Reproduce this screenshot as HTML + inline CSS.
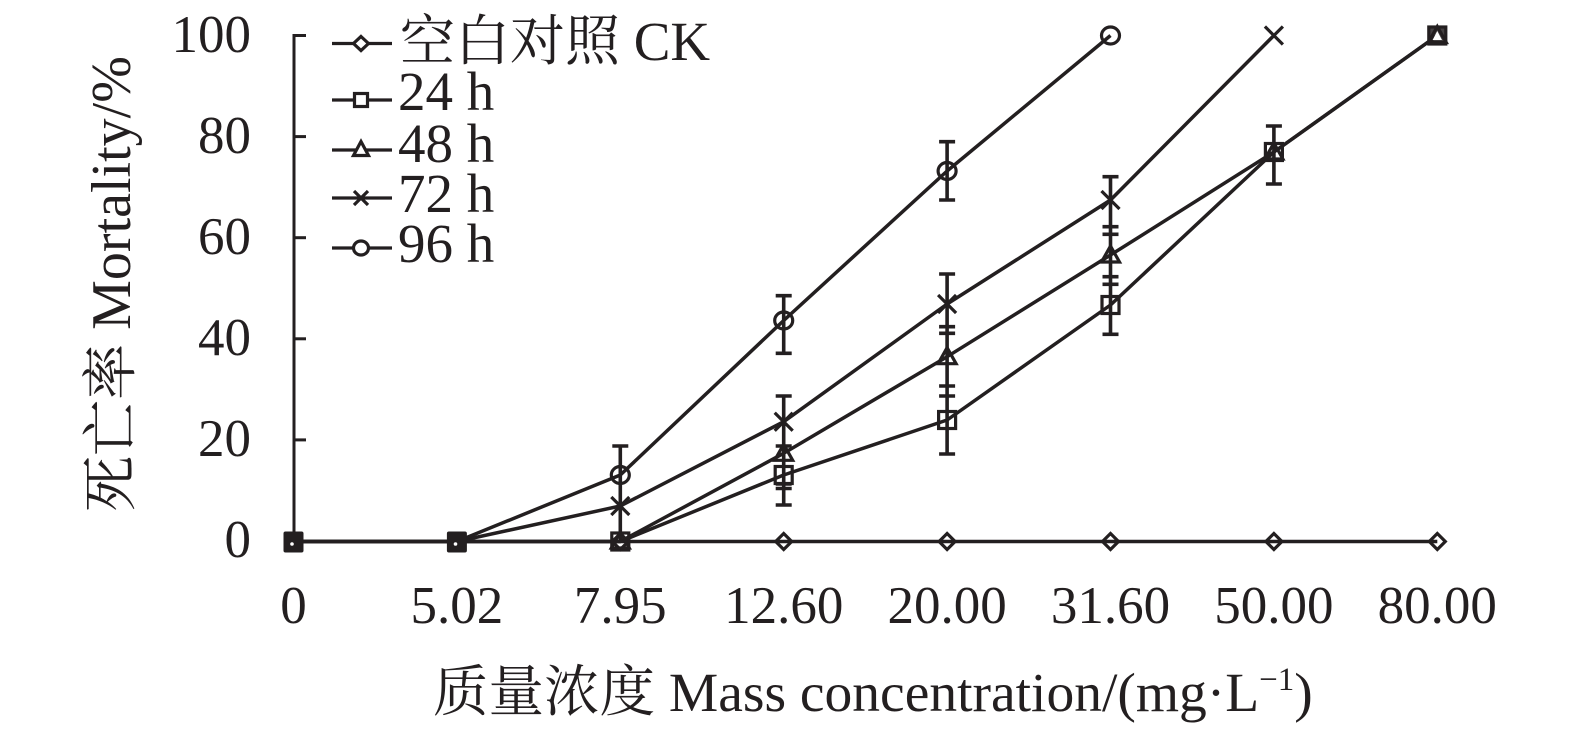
<!DOCTYPE html>
<html>
<head>
<meta charset="utf-8">
<style>
  html, body { margin: 0; padding: 0; background: #ffffff; }
  svg { display: block; }
  text { fill: #231f20; }
</style>
</head>
<body>
<svg width="1575" height="734" viewBox="0 0 1575 734" xmlns="http://www.w3.org/2000/svg">
  <rect width="1575" height="734" fill="#ffffff"/>

  <!-- Y axis -->
  <g stroke="#231f20" stroke-width="3" fill="none">
    <line x1="294" y1="34" x2="294" y2="542"/>
    <line x1="294" y1="35.5" x2="306" y2="35.5"/>
    <line x1="294" y1="136.6" x2="306" y2="136.6"/>
    <line x1="294" y1="237.7" x2="306" y2="237.7"/>
    <line x1="294" y1="338.8" x2="306" y2="338.8"/>
    <line x1="294" y1="439.9" x2="306" y2="439.9"/>
  </g>

  <!-- Y tick labels -->
  <g font-family="'Liberation Serif', serif" font-size="53" text-anchor="end">
    <text x="251" y="52">100</text>
    <text x="251" y="153">80</text>
    <text x="251" y="254">60</text>
    <text x="251" y="355">40</text>
    <text x="251" y="456">20</text>
    <text x="251" y="557">0</text>
  </g>

  <!-- X tick labels -->
  <g font-family="'Liberation Serif', serif" font-size="53" text-anchor="middle">
    <text x="293.5" y="623">0</text>
    <text x="456.9" y="623">5.02</text>
    <text x="620.3" y="623">7.95</text>
    <text x="783.7" y="623">12.60</text>
    <text x="947.1" y="623">20.00</text>
    <text x="1110.5" y="623">31.60</text>
    <text x="1273.9" y="623">50.00</text>
    <text x="1437.3" y="623">80.00</text>
  </g>

  <!-- Axis titles -->
  <text x="433" y="711" font-family="'Liberation Serif', 'Noto Serif CJK SC', serif" font-size="55.5">质量浓度 Mass concentration/(mg·L<tspan font-size="33" dy="-21">−1</tspan><tspan dy="21">)</tspan></text>
  <text transform="translate(130,284) rotate(-90)" text-anchor="middle" font-family="'Liberation Serif', 'Noto Serif CJK SC', serif" font-size="56">死亡率 Mortality/%</text>

  <!-- Series lines -->
  <g stroke="#231f20" stroke-width="3.5" fill="none" stroke-linejoin="round">
    <!-- CK -->
    <polyline points="293.5,541.5 456.9,541.5 620.3,541.5 783.7,541.5 947.1,541.5 1110.5,541.5 1273.9,541.5 1437.3,541.5"/>
    <!-- 24 h -->
    <polyline points="293.5,541.5 456.9,541.5 620.3,541.5 783.7,475 947.1,420 1110.5,305 1273.9,152 1437.3,35.5"/>
    <!-- 48 h -->
    <polyline points="293.5,541.5 456.9,541.5 620.3,541.5 783.7,453.3 947.1,356.7 1110.5,255 1273.9,152 1437.3,35.5"/>
    <!-- 72 h -->
    <polyline points="293.5,541.5 456.9,541.5 620.3,506 783.7,421.7 947.1,304 1110.5,200 1273.9,35.5"/>
    <!-- 96 h -->
    <polyline points="293.5,541.5 456.9,541.5 620.3,475 783.7,320.5 947.1,171 1110.5,35.5"/>
  </g>

  <!-- Error bars -->
  <g stroke="#231f20" stroke-width="3.6" fill="none">
    <line x1="620.3" y1="446" x2="620.3" y2="541"/>
    <line x1="612.3" y1="446" x2="628.3" y2="446"/>
    <line x1="783.7" y1="295.7" x2="783.7" y2="353.3"/>
    <line x1="775.7" y1="295.7" x2="791.7" y2="295.7"/>
    <line x1="775.7" y1="353.3" x2="791.7" y2="353.3"/>
    <line x1="783.7" y1="396" x2="783.7" y2="505"/>
    <line x1="775.7" y1="396" x2="791.7" y2="396"/>
    <line x1="775.7" y1="446" x2="791.7" y2="446"/>
    <line x1="775.7" y1="484" x2="791.7" y2="484"/>
    <line x1="775.7" y1="488.5" x2="791.7" y2="488.5"/>
    <line x1="775.7" y1="505" x2="791.7" y2="505"/>
    <line x1="947.1" y1="141.7" x2="947.1" y2="200"/>
    <line x1="939.1" y1="141.7" x2="955.1" y2="141.7"/>
    <line x1="939.1" y1="200" x2="955.1" y2="200"/>
    <line x1="947.1" y1="274" x2="947.1" y2="454"/>
    <line x1="939.1" y1="274" x2="955.1" y2="274"/>
    <line x1="939.1" y1="326.7" x2="955.1" y2="326.7"/>
    <line x1="939.1" y1="333.3" x2="955.1" y2="333.3"/>
    <line x1="939.1" y1="386" x2="955.1" y2="386"/>
    <line x1="939.1" y1="396" x2="955.1" y2="396"/>
    <line x1="939.1" y1="454" x2="955.1" y2="454"/>
    <line x1="1110.5" y1="176.7" x2="1110.5" y2="334.3"/>
    <line x1="1102.5" y1="176.7" x2="1118.5" y2="176.7"/>
    <line x1="1102.5" y1="226.7" x2="1118.5" y2="226.7"/>
    <line x1="1102.5" y1="234.3" x2="1118.5" y2="234.3"/>
    <line x1="1102.5" y1="276.7" x2="1118.5" y2="276.7"/>
    <line x1="1102.5" y1="284.3" x2="1118.5" y2="284.3"/>
    <line x1="1102.5" y1="334.3" x2="1118.5" y2="334.3"/>
    <line x1="1273.9" y1="126" x2="1273.9" y2="184"/>
    <line x1="1265.9" y1="126" x2="1281.9" y2="126"/>
    <line x1="1265.9" y1="184" x2="1281.9" y2="184"/>
  </g>

  <!-- Markers -->
  <g stroke="#231f20" stroke-width="3.2" fill="none">
    <path d="M620.3,533.5 L628.3,541.5 L620.3,549.5 L612.3,541.5 Z"/>
    <path d="M783.7,533.5 L791.7,541.5 L783.7,549.5 L775.7,541.5 Z"/>
    <path d="M947.1,533.5 L955.1,541.5 L947.1,549.5 L939.1,541.5 Z"/>
    <path d="M1110.5,533.5 L1118.5,541.5 L1110.5,549.5 L1102.5,541.5 Z"/>
    <path d="M1273.9,533.5 L1281.9,541.5 L1273.9,549.5 L1265.9,541.5 Z"/>
    <path d="M1437.3,533.5 L1445.3,541.5 L1437.3,549.5 L1429.3,541.5 Z"/>
    <rect x="611.8" y="533" width="17" height="17"/>
    <rect x="775.2" y="466.5" width="17" height="17"/>
    <rect x="938.6" y="411.5" width="17" height="17"/>
    <rect x="1102" y="296.5" width="17" height="17"/>
    <rect x="1265.4" y="143.5" width="17" height="17"/>
    <rect x="1428.8" y="27" width="17" height="17"/>
    <path d="M620.3,532 L629.3,548 L611.3,548 Z"/>
    <path d="M783.7,444.3 L792.7,460.3 L774.7,460.3 Z"/>
    <path d="M947.1,347.7 L956.1,363.7 L938.1,363.7 Z"/>
    <path d="M1110.5,246 L1119.5,262 L1101.5,262 Z"/>
    <path d="M1273.9,143 L1282.9,159 L1264.9,159 Z"/>
    <path d="M1437.3,26.5 L1446.3,42.5 L1428.3,42.5 Z"/>
    <path d="M611.3,497 L629.3,515 M629.3,497 L611.3,515"/>
    <path d="M774.7,412.7 L792.7,430.7 M792.7,412.7 L774.7,430.7"/>
    <path d="M938.1,295 L956.1,313 M956.1,295 L938.1,313"/>
    <path d="M1101.5,191 L1119.5,209 M1119.5,191 L1101.5,209"/>
    <path d="M1264.9,26.5 L1282.9,44.5 M1282.9,26.5 L1264.9,44.5"/>
    <ellipse cx="620.3" cy="475" rx="9" ry="8.5"/>
    <ellipse cx="783.7" cy="320.5" rx="9" ry="8.5"/>
    <ellipse cx="947.1" cy="171" rx="9" ry="8.5"/>
    <ellipse cx="1110.5" cy="35.5" rx="9" ry="8.5"/>
  </g>
  <rect x="283.5" y="531.5" width="20" height="21" rx="2" fill="#231f20"/>
  <rect x="446.9" y="531.5" width="20" height="21" rx="2" fill="#231f20"/>
  <circle cx="292" cy="544" r="1.8" fill="#ffffff"/>
  <circle cx="455.5" cy="544" r="1.8" fill="#ffffff"/>
  <rect x="1429.8" y="28" width="15" height="15" fill="#231f20" fill-opacity="0.85"/>
  <path d="M1437.3,31 L1442,40 L1432.6,40 Z" fill="#ffffff"/>

  <!-- Legend -->
  <g stroke="#231f20" stroke-width="3.2" fill="none">
    <line x1="332" y1="43.5" x2="392" y2="43.5"/>
    <path d="M361,36.5 L368.5,43.5 L361,50.5 L353.5,43.5 Z" fill="#ffffff"/>
    <line x1="332" y1="100" x2="392" y2="100"/>
    <rect x="354.5" y="93.5" width="13" height="13" fill="#ffffff"/>
    <line x1="332" y1="150" x2="392" y2="150"/>
    <path d="M361,141.5 L368.5,155.5 L353.5,155.5 Z" fill="#ffffff"/>
    <line x1="332" y1="198" x2="392" y2="198"/>
    <path d="M354,191 L368,205 M368,191 L354,205"/>
    <line x1="332" y1="248" x2="392" y2="248"/>
    <ellipse cx="361" cy="248" rx="7.5" ry="7" fill="#ffffff"/>
  </g>
  <g font-family="'Liberation Serif', 'Noto Serif CJK SC', serif" font-size="55">
    <text x="400" y="60">空白对照 CK</text>
    <text x="398" y="110">24 h</text>
    <text x="398" y="162">48 h</text>
    <text x="398" y="212">72 h</text>
    <text x="398" y="262">96 h</text>
  </g>
</svg>
</body>
</html>
